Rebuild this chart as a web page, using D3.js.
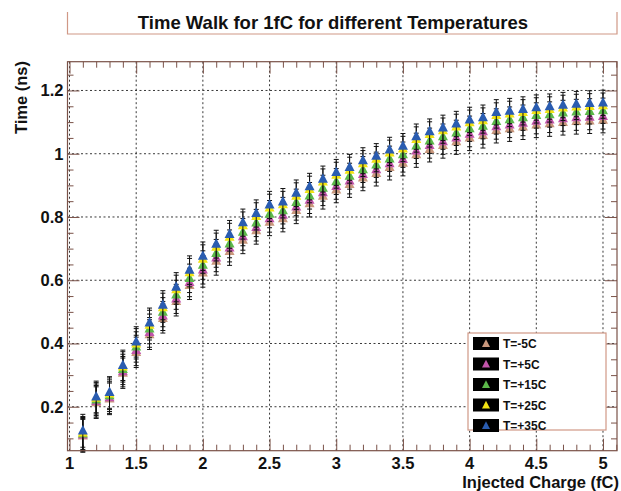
<!DOCTYPE html>
<html>
<head>
<meta charset="utf-8">
<script src="https://cdn.jsdelivr.net/npm/d3@7"></script>
<style>
  body { margin: 0; background: #fff; }
  text { font-family: "Liberation Sans", Arial, sans-serif; font-weight: bold; fill: #111; }
</style>
</head>
<body>
<div id="chart"></div>
<script>
// injected charge (fC), one point per 0.1 fC
var charges = [1.1,1.2,1.3,1.4,1.5,1.6,1.7,1.8,1.9,2.0,2.1,2.2,2.3,2.4,2.5,2.6,2.7,2.8,2.9,3.0,
               3.1,3.2,3.3,3.4,3.5,3.6,3.7,3.8,3.9,4.0,4.1,4.2,4.3,4.4,4.5,4.6,4.7,4.8,4.9,5.0];

// time (ns) per temperature
var tM5 = [0.108,0.213,0.225,0.306,0.372,0.428,0.479,0.533,0.584,0.623,0.660,0.691,0.727,0.757,0.784,0.795,0.821,0.842,0.866,0.886,
           0.903,0.924,0.938,0.957,0.970,0.997,1.014,1.026,1.038,1.050,1.058,1.074,1.079,1.085,1.091,1.095,1.099,1.102,1.104,1.106];
var tP5 = [0.111,0.217,0.229,0.311,0.378,0.435,0.487,0.541,0.593,0.633,0.671,0.702,0.738,0.767,0.795,0.806,0.832,0.853,0.877,0.897,
           0.914,0.935,0.950,0.969,0.982,1.009,1.026,1.038,1.050,1.062,1.070,1.086,1.091,1.097,1.103,1.107,1.111,1.114,1.116,1.118];
var tP15 = [0.114,0.222,0.235,0.318,0.389,0.446,0.499,0.554,0.606,0.648,0.685,0.715,0.752,0.781,0.809,0.820,0.846,0.867,0.891,0.912,
            0.929,0.950,0.965,0.984,0.997,1.025,1.041,1.054,1.066,1.079,1.087,1.102,1.108,1.114,1.121,1.124,1.129,1.132,1.134,1.136];
var tP25 = [0.117,0.227,0.241,0.326,0.399,0.458,0.513,0.570,0.624,0.667,0.705,0.736,0.773,0.802,0.829,0.839,0.866,0.887,0.911,0.932,
            0.948,0.969,0.983,1.003,1.015,1.045,1.061,1.073,1.085,1.098,1.105,1.121,1.126,1.131,1.137,1.140,1.145,1.148,1.150,1.152];
var tP35 = [0.124,0.231,0.245,0.331,0.405,0.465,0.521,0.578,0.632,0.676,0.714,0.745,0.782,0.811,0.838,0.848,0.875,0.896,0.920,0.941,
            0.957,0.978,0.992,1.012,1.024,1.054,1.070,1.082,1.094,1.107,1.114,1.131,1.135,1.140,1.146,1.149,1.154,1.157,1.159,1.161];

// error on time (ns), same for every temperature
var errors = [0.052,0.050,0.050,0.048,0.048,0.047,0.046,0.046,0.045,0.045,0.044,0.044,0.043,0.043,0.043,0.042,0.042,0.042,0.041,0.041,
              0.041,0.041,0.040,0.040,0.040,0.040,0.040,0.040,0.040,0.040,0.040,0.040,0.040,0.040,0.040,0.040,0.040,0.040,0.040,0.040];

var seriesNames = ["T=-5C", "T=+5C", "T=+15C", "T=+25C", "T=+35C"];
var seriesValues = [tM5, tP5, tP15, tP25, tP35];
var seriesColors = ["#c9977c", "#c254aa", "#5cb84a", "#f2e313", "#2a5cb0"];

var xMajor = [1, 1.5, 2, 2.5, 3, 3.5, 4, 4.5, 5];
var yMajor = [0.2, 0.4, 0.6, 0.8, 1, 1.2];

var width = 621, height = 491;
var frameColor = "#7a5248", boxColor = "#d09886";

var svg = d3.select("#chart").append("svg")
    .attr("width", width)
    .attr("height", height);

var x = d3.scaleLinear().domain([0.985, 5.105]).range([67.5, 617]);
var y = d3.scaleLinear().domain([0.061, 1.291]).range([450.7, 61.7]);

var x0 = x.range()[0], x1 = x.range()[1], y0 = y.range()[0], y1 = y.range()[1];

// title box (ROOT style, open on top)
svg.append("path")
   .attr("d", "M67.5,12V34H617V12")
   .attr("fill", "none")
   .attr("stroke", boxColor)
   .attr("stroke-width", 1.2);
svg.append("text")
   .attr("x", 333).attr("y", 28.5)
   .attr("text-anchor", "middle")
   .style("font-size", "18.5px")
   .text("Time Walk for 1fC for different Temperatures");

// grid
var grid = svg.append("g").attr("class", "grid")
    .attr("stroke", "#222").attr("stroke-width", 0.9).attr("stroke-dasharray", "2,2.5");
grid.selectAll("line.gx").data(xMajor).enter().append("line")
    .attr("x1", d => x(d)).attr("x2", d => x(d))
    .attr("y1", y0).attr("y2", y1);
grid.selectAll("line.gy").data(yMajor).enter().append("line")
    .attr("x1", x0).attr("x2", x1)
    .attr("y1", d => y(d)).attr("y2", d => y(d));

// axes with ticks on all four sides
var xMinor = d3.range(10, 52).map(d => d / 10).filter(d => xMajor.indexOf(d) < 0);
var yMinor = d3.range(2, 26).map(d => d / 20).filter(d => yMajor.indexOf(+d.toFixed(2)) < 0);

function ticks(g, axis, vals, len) {
  g.append("g").call(axis.tickValues(vals).tickSize(len).tickSizeOuter(0).tickFormat(""))
   .call(s => s.select(".domain").remove())
   .call(s => s.selectAll("line").attr("stroke", frameColor));
}
var axes = svg.append("g");
var gb = axes.append("g").attr("transform", "translate(0," + y0 + ")");
ticks(gb, d3.axisTop(x), xMajor, 12);
ticks(gb, d3.axisTop(x), xMinor, 6);
var gt = axes.append("g").attr("transform", "translate(0," + y1 + ")");
ticks(gt, d3.axisBottom(x), xMajor, 12);
ticks(gt, d3.axisBottom(x), xMinor, 6);
var gl = axes.append("g").attr("transform", "translate(" + x0 + ",0)");
ticks(gl, d3.axisRight(y), yMajor, 12);
ticks(gl, d3.axisRight(y), yMinor, 6);
var gr = axes.append("g").attr("transform", "translate(" + x1 + ",0)");
ticks(gr, d3.axisLeft(y), yMajor, 12);
ticks(gr, d3.axisLeft(y), yMinor, 6);

// tick labels
svg.append("g").selectAll("text").data(xMajor).enter().append("text")
   .attr("x", d => x(d)).attr("y", 468.5)
   .attr("text-anchor", "middle")
   .style("font-size", "16.5px")
   .text(d => d);
svg.append("g").selectAll("text").data(yMajor).enter().append("text")
   .attr("x", 63.5).attr("y", d => y(d) + 6)
   .attr("text-anchor", "end")
   .style("font-size", "16.5px")
   .text(d => d);

// axis titles
svg.append("text")
   .attr("x", 619).attr("y", 487.5)
   .attr("text-anchor", "end")
   .style("font-size", "16.5px")
   .text("Injected Charge (fC)");
svg.append("text")
   .attr("transform", "translate(27,61) rotate(-90)")
   .attr("text-anchor", "end")
   .style("font-size", "16.5px")
   .text("Time (ns)");

// triangle marker
function tri(s) {
  var h = s * 0.95;
  return "M0," + (-h * 0.62) + "L" + (s / 2) + "," + (h * 0.38) + "L" + (-s / 2) + "," + (h * 0.38) + "Z";
}

// series: error bars then markers, -5C first, +35C on top
var plot = svg.append("g");
seriesValues.forEach(function(vals, k) {
  var pts = charges.map((c, i) => ({c: c, t: vals[i], e: errors[i]}));
  var g = plot.append("g");
  var eb = g.selectAll("g.err").data(pts).enter().append("g")
     .attr("stroke", "#111").attr("stroke-width", 1);
  eb.append("line")
    .attr("x1", d => x(d.c)).attr("x2", d => x(d.c))
    .attr("y1", d => y(d.t - d.e)).attr("y2", d => y(d.t + d.e));
  eb.append("line")
    .attr("x1", d => x(d.c) - 2.5).attr("x2", d => x(d.c) + 2.5)
    .attr("y1", d => y(d.t - d.e)).attr("y2", d => y(d.t - d.e));
  eb.append("line")
    .attr("x1", d => x(d.c) - 2.5).attr("x2", d => x(d.c) + 2.5)
    .attr("y1", d => y(d.t + d.e)).attr("y2", d => y(d.t + d.e));
  g.selectAll("path.m").data(pts).enter().append("path")
   .attr("class", "m")
   .attr("transform", d => "translate(" + x(d.c) + "," + y(d.t) + ")")
   .attr("d", tri(10))
   .attr("fill", seriesColors[k]);
});

// frame
svg.append("rect")
   .attr("x", x0).attr("y", y1)
   .attr("width", x1 - x0).attr("height", y0 - y1)
   .attr("fill", "none")
   .attr("stroke", frameColor)
   .attr("stroke-width", 1.2);

// legend
var legend = svg.append("g");
legend.append("rect")
   .attr("x", 468).attr("y", 333)
   .attr("width", 138).attr("height", 97)
   .attr("fill", "#fff")
   .attr("stroke", boxColor)
   .attr("stroke-width", 1.2);
var items = legend.selectAll("g.item").data(seriesNames).enter().append("g")
   .attr("transform", (d, i) => "translate(0," + (343.5 + i * 20.5) + ")");
items.append("rect")
   .attr("x", 473).attr("y", -6.5)
   .attr("width", 26).attr("height", 13)
   .attr("fill", "#000");
items.append("path")
   .attr("transform", "translate(486,0.5)")
   .attr("d", tri(8))
   .attr("fill", (d, i) => seriesColors[i]);
items.append("text")
   .attr("x", 503).attr("y", 4.5)
   .style("font-size", "12px")
   .text(d => d);
</script>
</body>
</html>
